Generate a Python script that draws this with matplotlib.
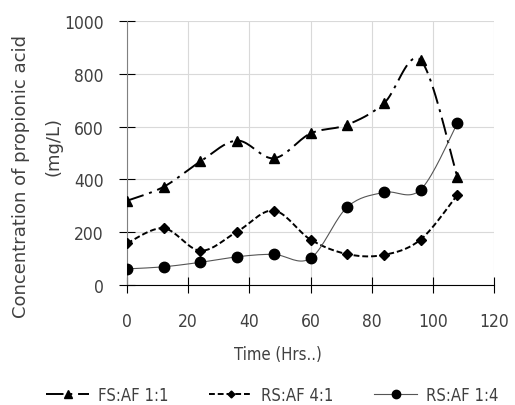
import numpy as np
import matplotlib
matplotlib.use("Agg")
import matplotlib.pyplot as plt
from matplotlib import font_manager

for f in font_manager.findSystemFonts():
    if 'Narrow' in f or 'Condensed' in f:
        try:
            font_manager.fontManager.addfont(f)
        except Exception:
            pass
names = {f.name for f in font_manager.fontManager.ttflist}
stretch = 'normal'
if "Liberation Sans Narrow" in names:
    fam = ["Liberation Sans Narrow"]
else:
    fam = ["DejaVu Sans"]
    stretch = 'condensed'
plt.rcParams['font.family'] = fam + ["DejaVu Sans"]
plt.rcParams['font.stretch'] = stretch

time_hrs = [0, 12, 24, 36, 48, 60, 72, 84, 96, 108]
fs_af_11 = [319, 372, 468, 547, 480, 574, 607, 688, 852, 410]
rs_af_41 = [158, 215, 130, 202, 282, 172, 117, 114, 172, 341]
rs_af_14 = [61, 69, 86, 107, 116, 101, 295, 351, 361, 612]
labels = ["FS:AF 1:1", "RS:AF 4:1", "RS:AF 1:4"]
x_ticks = [0, 20, 40, 60, 80, 100, 120]
y_ticks = [0, 200, 400, 600, 800, 1000]


def smooth(x, y, n=20):
    x = np.asarray(x, float); y = np.asarray(y, float)
    P = np.column_stack([x, y])
    out = [P[0]]
    for i in range(len(P) - 1):
        p0 = P[i - 1] if i > 0 else P[i]
        p1 = P[i]; p2 = P[i + 1]
        p3 = P[i + 2] if i + 2 < len(P) else P[i + 1]
        c1 = p1 + (p2 - p0) / 6.0
        c2 = p2 - (p3 - p1) / 6.0
        t = np.linspace(0, 1, n)[1:, None]
        seg = ((1 - t) ** 3) * p1 + 3 * ((1 - t) ** 2) * t * c1 + 3 * (1 - t) * t ** 2 * c2 + t ** 3 * p2
        out.extend(seg)
    out = np.array(out)
    return out[:, 0], out[:, 1]


W, H = 515, 406
fig = plt.figure(figsize=(W / 100, H / 100), dpi=100)
ax_l, ax_r, ax_t, ax_b = 127, 494, 22, 286
ax = fig.add_axes([ax_l / W, 1 - ax_b / H, (ax_r - ax_l) / W, (ax_b - ax_t) / H])
txt = '#404040'

series = [
    (fs_af_11, '^', (0, (9, 3, 1.5, 3)), 1.4, 'black', 7),
    (rs_af_41, 'D', (0, (3, 1.5)), 1.4, 'black', 5),
    (rs_af_14, 'o', '-', 0.8, '#555555', 7.5),
]
handles = []
for (vals, mk, ls, lw, lc, ms), lab in zip(series, labels):
    sx, sy = smooth(time_hrs, vals)
    ax.plot(sx, sy, linestyle=ls, color=lc, lw=lw, zorder=2)
    ax.plot(time_hrs, vals, linestyle='none', marker=mk, color='black', ms=ms, zorder=3)
    h, = ax.plot([], [], linestyle=ls, color=lc, lw=lw, marker=mk, ms=ms - 1.5,
                 markerfacecolor='black', markeredgecolor='black')
    handles.append(h)

ax.set_xlim(0, 120)
ax.set_ylim(0, 1000)
ax.set_xticks(x_ticks)
ax.set_yticks(y_ticks)
ax.grid(True, color='#d9d9d9', lw=0.8)
ax.set_axisbelow(True)
for s in ['top', 'right']:
    ax.spines[s].set_visible(False)
ax.spines['left'].set_color('#808080')
ax.spines['bottom'].set_color('black')
ax.tick_params(axis='x', direction='inout', length=11, width=0.8, colors='black',
               labelcolor=txt, labelsize=12.5, pad=14)
ax.tick_params(axis='y', direction='inout', length=12, width=0.8, colors='black',
               labelcolor=txt, labelsize=12.5, pad=11)

fig.text(278 / W, 1 - 355 / H, 'Time (Hrs..)', color=txt, fontsize=12, ha='center', va='center')
fig.text(21 / W, 1 - 177 / H, 'Concentration of propionic acid', color=txt, fontsize=13,
         fontstretch='normal', rotation=90, ha='center', va='center')
fig.text(54 / W, 1 - 147 / H, '(mg/L)', color=txt, fontsize=13,
         fontstretch='normal', rotation=90, ha='center', va='center')

fig.legend(handles, labels, loc='center', bbox_to_anchor=(272 / W, 1 - 396 / H), ncol=3, frameon=False,
           fontsize=12, handlelength=2.6, columnspacing=2.45, labelcolor=txt, handletextpad=0.5,
           borderpad=0, borderaxespad=0)

fig.savefig('out.png', dpi=100)
